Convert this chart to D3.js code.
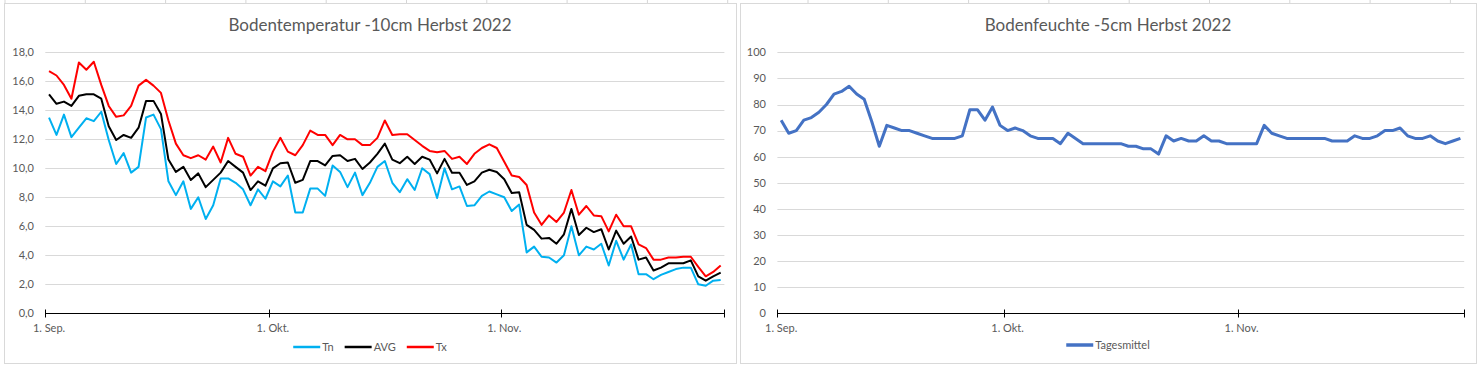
<!DOCTYPE html>
<html>
<head>
<meta charset="utf-8">
<script src="https://cdn.jsdelivr.net/npm/d3@7"></script>
<style>
  body { margin: 0; background: #fff; }
  text { font-family: Lato, "Liberation Sans", sans-serif; fill: #595959; }
</style>
</head>
<body>
<svg id="chart" width="1479" height="368"></svg>
<script>
// daily values, 1. Sep. - 30. Nov. 2022
const tempMin = [
  13.5, 12.3, 13.7, 12.15, 12.8, 13.45, 13.25, 13.9, 11.95, 10.3,
  11.05, 9.7, 10.1, 13.5, 13.7, 12.7, 9.1, 8.15, 9.1, 7.2,
  8.0, 6.5, 7.45, 9.3, 9.3, 9.0, 8.55, 7.45, 8.55, 7.9,
  9.1, 8.75, 9.5, 6.95, 6.95, 8.6, 8.6, 8.1, 10.2, 9.75,
  8.7, 9.7, 8.15, 9.0, 10.1, 10.5, 9.0, 8.35, 9.25, 8.5,
  10.0, 9.6, 7.95, 10.0, 8.55, 8.75, 7.4, 7.45, 8.1, 8.4,
  8.2, 8.0, 7.05, 7.5, 4.2, 4.6, 3.9, 3.85, 3.5, 4.0,
  6.0, 4.0, 4.6, 4.4, 4.8, 3.3, 5.0, 3.7, 4.75, 2.7,
  2.7, 2.35, 2.65, 2.85, 3.05, 3.15, 3.15, 2.0, 1.9, 2.25,
  2.3
];
const tempAvg = [
  15.1, 14.45, 14.6, 14.3, 15.0, 15.1, 15.1, 14.8, 12.9, 11.95,
  12.3, 12.1, 12.8, 14.65, 14.65, 13.75, 10.6, 9.75, 10.1, 9.2,
  9.65, 8.7, 9.2, 9.7, 10.5, 10.1, 9.7, 8.5, 9.1, 8.8,
  10.0, 10.35, 10.4, 9.0, 9.2, 10.5, 10.5, 10.2, 10.85, 10.9,
  10.5, 10.65, 9.95, 10.4, 11.0, 11.7, 10.6, 10.35, 10.8, 10.3,
  10.8, 10.6, 9.65, 10.65, 9.7, 9.7, 8.85, 9.1, 9.7, 9.9,
  9.75, 9.25, 8.3, 8.35, 6.1, 5.75, 5.15, 5.2, 4.8, 5.45,
  7.2, 5.4, 5.9, 5.6, 5.8, 4.4, 5.7, 4.8, 5.3, 3.7,
  3.85, 2.95, 3.15, 3.45, 3.45, 3.45, 3.65, 2.55, 2.25, 2.55,
  2.8
];
const tempMax = [
  16.7, 16.4, 15.75, 14.8, 17.3, 16.8, 17.35, 15.75, 14.3, 13.55,
  13.65, 14.3, 15.7, 16.1, 15.7, 15.2, 13.3, 11.7, 10.9, 10.7,
  10.9, 10.6, 11.5, 10.4, 12.1, 11.0, 10.8, 9.5, 10.1, 9.8,
  11.15, 12.1, 11.15, 10.9, 11.6, 12.6, 12.3, 12.3, 11.6, 12.3,
  12.0, 12.0, 11.6, 11.6, 12.1, 13.3, 12.3, 12.35, 12.35, 11.95,
  11.55, 11.2, 11.1, 11.2, 10.65, 10.8, 10.3, 11.0, 11.4, 11.65,
  11.4, 10.45, 9.5, 9.4, 8.85, 6.95, 6.1, 6.75, 6.3, 6.95,
  8.5, 6.8, 7.4, 6.75, 6.7, 5.65, 6.8, 6.0, 6.0, 4.75,
  4.5, 3.7, 3.7, 3.85, 3.85, 3.9, 3.9, 3.2, 2.55, 2.85,
  3.3
];
const moisture = [
  74, 69, 70, 74, 75, 77, 80, 84, 85, 87,
  84, 82, 73.5, 64, 72, 71, 70, 70, 69, 68,
  67, 67, 67, 67, 68, 78, 78, 74, 79, 72,
  70, 71, 70, 68, 67, 67, 67, 65, 69, 67,
  65, 65, 65, 65, 65, 65, 64, 64, 63, 63,
  61, 68, 66, 67, 66, 66, 68, 66, 66, 65,
  65, 65, 65, 65, 72, 69, 68, 67, 67, 67,
  67, 67, 67, 66, 66, 66, 68, 67, 67, 68,
  70, 70, 71, 68, 67, 67, 68, 66, 65, 66,
  67
];
const tempTicks = [0, 2, 4, 6, 8, 10, 12, 14, 16, 18];
const moistTicks = [0, 10, 20, 30, 40, 50, 60, 70, 80, 90, 100];
const monthLabels = ["1. Sep.", "1. Okt.", "1. Nov."];

const start = new Date(Date.UTC(2022, 8, 1));
const end = new Date(Date.UTC(2022, 11, 1));
const days = d3.utcDay.range(start, end);
const monthStarts = d3.utcMonth.range(start, d3.utcDay.offset(end, 1));

const svg = d3.select("#chart");

// faint sheet column marks above the charts
svg.append("g").selectAll("line")
  .data(d3.range(5, 1479, 80.3))
  .join("line")
  .attr("x1", (d) => d).attr("x2", (d) => d)
  .attr("y1", 0).attr("y2", 3)
  .attr("stroke", "#d6d6d6");

function drawPanel(cfg) {
  const g = svg.append("g");

  g.append("rect")
    .attr("x", cfg.box[0] + 0.5).attr("y", 3.5)
    .attr("width", cfg.box[1] - cfg.box[0]).attr("height", 360)
    .attr("fill", "#fff").attr("stroke", "#d9d9d9");

  g.append("text")
    .attr("x", (cfg.box[0] + cfg.box[1]) / 2).attr("y", 31)
    .attr("text-anchor", "middle")
    .style("font-size", "17px")
    .text(cfg.title);

  const x = d3.scaleUtc().domain([start, end]).range(cfg.xRange);
  const y = d3.scaleLinear().domain(cfg.yDomain).range([313.3, 52.3]);

  // gridlines
  g.append("g").selectAll("line")
    .data(cfg.yTicks.filter((d) => d > 0))
    .join("line")
    .attr("x1", cfg.xRange[0]).attr("x2", cfg.xRange[1])
    .attr("y1", (d) => Math.round(y(d)) + 0.5).attr("y2", (d) => Math.round(y(d)) + 0.5)
    .attr("stroke", "#d9d9d9");

  // y labels
  g.append("g").selectAll("text")
    .data(cfg.yTicks)
    .join("text")
    .attr("x", cfg.yLabelX).attr("y", (d) => y(d))
    .attr("dy", "0.35em")
    .attr("text-anchor", "end")
    .style("font-size", "11px")
    .text(cfg.yFormat);

  // x axis with crossing ticks
  const axisY = Math.round(y(0)) + 0.5;
  g.append("line")
    .attr("x1", cfg.xRange[0]).attr("x2", cfg.xRange[1])
    .attr("y1", axisY).attr("y2", axisY)
    .attr("stroke", "#000");
  g.append("g").selectAll("line")
    .data(monthStarts)
    .join("line")
    .attr("x1", (d) => Math.round(x(d)) + 0.5).attr("x2", (d) => Math.round(x(d)) + 0.5)
    .attr("y1", axisY - 4).attr("y2", axisY + 4)
    .attr("stroke", "#000");
  g.append("g").selectAll("text")
    .data(monthStarts.slice(0, monthLabels.length))
    .join("text")
    .attr("x", (d) => x(d3.utcHour.offset(d, 12)))
    .attr("y", 332)
    .attr("text-anchor", "middle")
    .style("font-size", "11px")
    .text((d, i) => monthLabels[i]);

  // series
  const line = d3.line()
    .x((d, i) => x(d3.utcHour.offset(days[i], 12)))
    .y((d) => y(d));
  cfg.series.forEach((s) => {
    g.append("path")
      .datum(s.values)
      .attr("d", line)
      .attr("fill", "none")
      .attr("stroke", s.color)
      .attr("stroke-width", cfg.lineWidth)
      .attr("stroke-linejoin", "round");
  });

  // legend, centred in the box
  const leg = g.append("g");
  let lx = 0;
  cfg.series.forEach((s) => {
    leg.append("line")
      .attr("x1", lx).attr("x2", lx + 27)
      .attr("y1", 0).attr("y2", 0)
      .attr("stroke", s.color).attr("stroke-width", cfg.lineWidth + 0.5);
    const t = leg.append("text")
      .attr("x", lx + 29).attr("y", 0).attr("dy", "0.35em")
      .style("font-size", "11px")
      .text(s.name);
    lx += 29 + t.node().getComputedTextLength() + 11;
  });
  const legW = lx - 11;
  leg.attr("transform", "translate(" + ((cfg.box[0] + cfg.box[1]) / 2 - legW / 2) + "," + cfg.legendY + ")");
}

drawPanel({
  box: [4, 736],
  title: "Bodentemperatur -10cm Herbst 2022",
  xRange: [45.3, 724.4],
  yDomain: [0, 18],
  yTicks: tempTicks,
  yFormat: (d) => d.toFixed(1).replace(".", ","),
  yLabelX: 34,
  lineWidth: 2,
  legendY: 347,
  series: [
    { name: "Tn", values: tempMin, color: "#00b0f0" },
    { name: "AVG", values: tempAvg, color: "#000000" },
    { name: "Tx", values: tempMax, color: "#ff0000" }
  ]
});

drawPanel({
  box: [740, 1476],
  title: "Bodenfeuchte -5cm Herbst 2022",
  xRange: [777.4, 1464.2],
  yDomain: [0, 100],
  yTicks: moistTicks,
  yFormat: (d) => String(d),
  yLabelX: 766,
  lineWidth: 3,
  legendY: 345,
  series: [
    { name: "Tagesmittel", values: moisture, color: "#4472c4" }
  ]
});
</script>
</body>
</html>
